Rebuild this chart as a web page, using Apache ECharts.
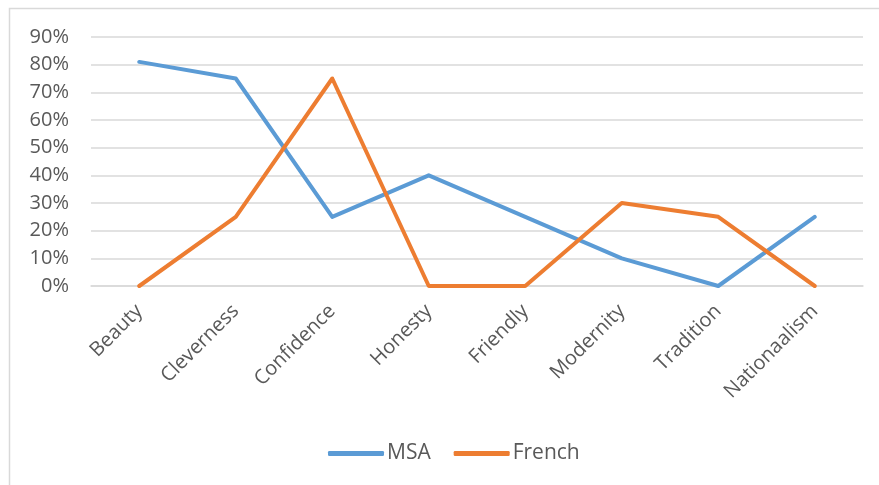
<!DOCTYPE html>
<html>
<head>
<meta charset="utf-8">
<script src="https://cdn.jsdelivr.net/npm/echarts@6/dist/echarts.min.js"></script>
<style>
  html, body { margin: 0; padding: 0; background: #fff; }
  #chart { width: 879px; height: 485px; }
</style>
</head>
<body>
<div id="chart"></div>
<script>
// Attribute categories and the share of respondents per language variety
const categories = ['Beauty', 'Cleverness', 'Confidence', 'Honesty', 'Friendly', 'Modernity', 'Tradition', 'Nationaalism'];
const msaValues = [81, 75, 25, 40, 25, 10, 0, 25];
const frenchValues = [0, 25, 75, 0, 0, 30, 25, 0];
const yTicks = [0, 10, 20, 30, 40, 50, 60, 70, 80, 90];

const labelColor = '#595959';
const fontFamily = '"Open Sans", "Liberation Sans", sans-serif';

const chart = echarts.init(document.getElementById('chart'));
chart.setOption({
  animation: false,
  backgroundColor: '#fff',
  graphic: [{
    type: 'rect',
    shape: { x: 9.5, y: 8.5, width: 900, height: 500 },
    style: { fill: 'none', stroke: '#d9d9d9', lineWidth: 1.5 },
    silent: true
  }],
  grid: { left: 91, right: 16, top: 37, bottom: 199, containLabel: false },
  legend: {
    top: 438,
    left: 323,
    itemGap: 23,
    itemWidth: 56,
    itemHeight: 5,
    icon: 'roundRect',
    textStyle: { color: labelColor, fontSize: 21, fontFamily, padding: [0, 0, 0, -2] },
    data: ['MSA', 'French']
  },
  xAxis: {
    type: 'category',
    data: categories,
    boundaryGap: true,
    axisLine: { show: true, lineStyle: { color: '#d9d9d9', width: 1.5 } },
    axisTick: { show: false },
    axisLabel: { rotate: 45, color: labelColor, fontSize: 20, fontFamily, margin: 22, interval: 0 }
  },
  yAxis: {
    type: 'value',
    min: yTicks[0],
    max: yTicks[yTicks.length - 1],
    interval: 10,
    axisLine: { show: false },
    axisTick: { show: false },
    splitLine: { lineStyle: { color: '#d9d9d9', width: 1.5 } },
    axisLabel: { color: labelColor, fontSize: 20, fontFamily, margin: 22, formatter: v => v + '%' }
  },
  series: [
    {
      name: 'MSA', type: 'line', data: msaValues,
      symbol: 'none', color: '#5B9BD5',
      lineStyle: { width: 4, cap: 'round', join: 'round' }
    },
    {
      name: 'French', type: 'line', data: frenchValues,
      symbol: 'none', color: '#ED7D31',
      lineStyle: { width: 4, cap: 'round', join: 'round' }
    }
  ]
});
</script>
</body>
</html>
